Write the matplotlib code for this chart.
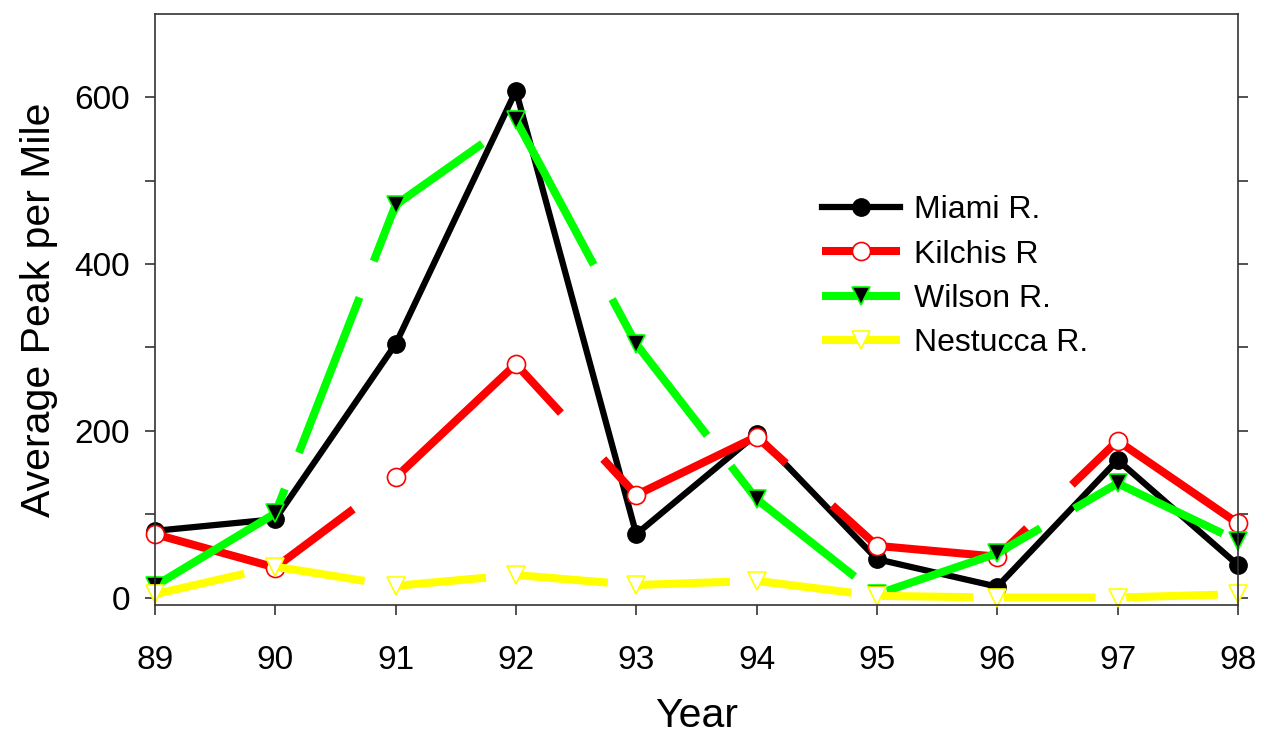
import numpy as np
import matplotlib.pyplot as plt

plt.rcParams['font.family'] = ['Liberation Sans', 'DejaVu Sans']
plt.rcParams['lines.scale_dashes'] = False

years = np.arange(89, 99)
miami = [80, 94, 304, 608, 76, 196, 46, 13, 165, 39]
kilchis = [76, 36, 144, 280, 123, 193, 62, 49, 188, 89]
wilson = [14, 101, 471, 573, 304, 118, 4, 53, 137, 68]
nestucca = [4, 37, 14, 27, 15, 20, 2, 0, 0, 4]

fig = plt.figure(figsize=(12.68, 7.39), dpi=100)
ax = fig.add_axes([0.1222, 0.1813, 0.8541, 0.7997])

ax.plot(years, miami, color='black', lw=4.5, marker='o', ms=12.5,
        mfc='black', mec='black', label='Miami R.', clip_on=False)
ax.plot(years, kilchis, color='#ff0000', lw=5.8, marker='o', ms=13,
        mfc='white', mec='#ff0000', mew=1.2, dashes=(160, 45),
        label='Kilchis R', clip_on=False)
ax.plot(years, wilson, color='#00ff00', lw=5.8, marker='v', ms=13,
        mfc='black', mec='#00ff00', mew=1.2, dashes=(120, 28),
        label='Wilson R.', clip_on=False)
ax.plot(years, nestucca, color='#ffff00', lw=5.8, marker='v', ms=13,
        mfc='white', mec='#ffff00', mew=1.2, dashes=(66, 22),
        label='Nestucca R.', clip_on=False)

ax.set_xlim(89, 98)
ax.set_ylim(-9, 700)
ax.set_xticks(years)
ax.set_xticklabels([str(y) for y in years])
ax.set_yticks([0, 200, 400, 600])
ax.set_yticks([100, 300, 500], minor=True)

for side in ['left', 'right', 'top', 'bottom']:
    ax.spines[side].set_linewidth(1.2)
    ax.spines[side].set_color('#333333')

ax.tick_params(axis='both', which='both', direction='out', length=7,
               width=1.2, color='#333333', labelsize=24)
ax.tick_params(axis='y', which='both', right=True)
ax.tick_params(axis='x', pad=22)
ax.tick_params(axis='y', pad=11)

ax.set_xlabel('Year', fontsize=29.5, labelpad=15)
ax.set_ylabel('Average Peak per Mile', fontsize=29.5, labelpad=12)

ax.legend(loc='upper left', bbox_to_anchor=(0.589, 0.742), frameon=False,
          fontsize=23, handlelength=2.45, labelspacing=0.45,
          handletextpad=0.45)

fig.savefig('out.png', dpi=100)
